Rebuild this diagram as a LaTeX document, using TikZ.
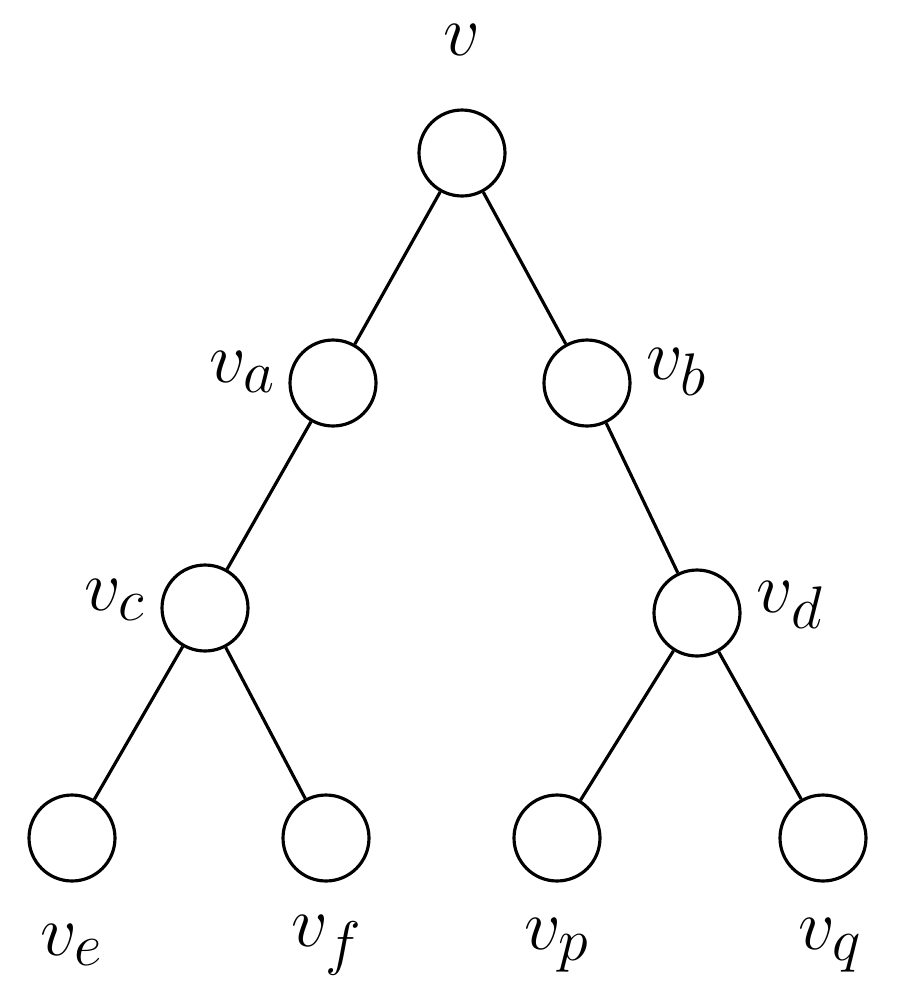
\documentclass[tikz,border=0pt]{standalone}
\begin{document}
\begin{tikzpicture}[x=0.02cm,y=-0.02cm,
  vtx/.style={circle,draw,line width=1.8pt,minimum size=1.72cm,inner sep=0pt},
  lbl/.style={font=\Huge,scale=1.65},
  edge/.style={line width=1.8pt}]
\useasboundingbox (0,0) rectangle (911,1002);
\node[vtx] (v) at (462,153) {};
\node[vtx] (va) at (333,383) {};
\node[vtx] (vb) at (587,383) {};
\node[vtx] (vc) at (205,608) {};
\node[vtx] (vd) at (697,613) {};
\node[vtx] (ve) at (72,838) {};
\node[vtx] (vf) at (326,838) {};
\node[vtx] (vp) at (557,838) {};
\node[vtx] (vq) at (823,838) {};
\node[lbl] (lv) at (462,40) {$v$};
\node[lbl] (lva) at (243,372) {$v_a$};
\node[lbl] (lvb) at (677,372) {$v_b$};
\node[lbl] (lvc) at (115,600) {$v_c$};
\node[lbl] (lvd) at (790,605) {$v_d$};
\node[lbl] (lve) at (72,945) {$v_e$};
\node[lbl] (lvf) at (327,945) {$v_f$};
\node[lbl] (lvp) at (557,945) {$v_p$};
\node[lbl] (lvq) at (830,945) {$v_q$};
\draw[edge] (v)--(va); \draw[edge] (v)--(vb);
\draw[edge] (va)--(vc); \draw[edge] (vb)--(vd);
\draw[edge] (vc)--(ve); \draw[edge] (vc)--(vf);
\draw[edge] (vd)--(vp); \draw[edge] (vd)--(vq);
\end{tikzpicture}
\end{document}
